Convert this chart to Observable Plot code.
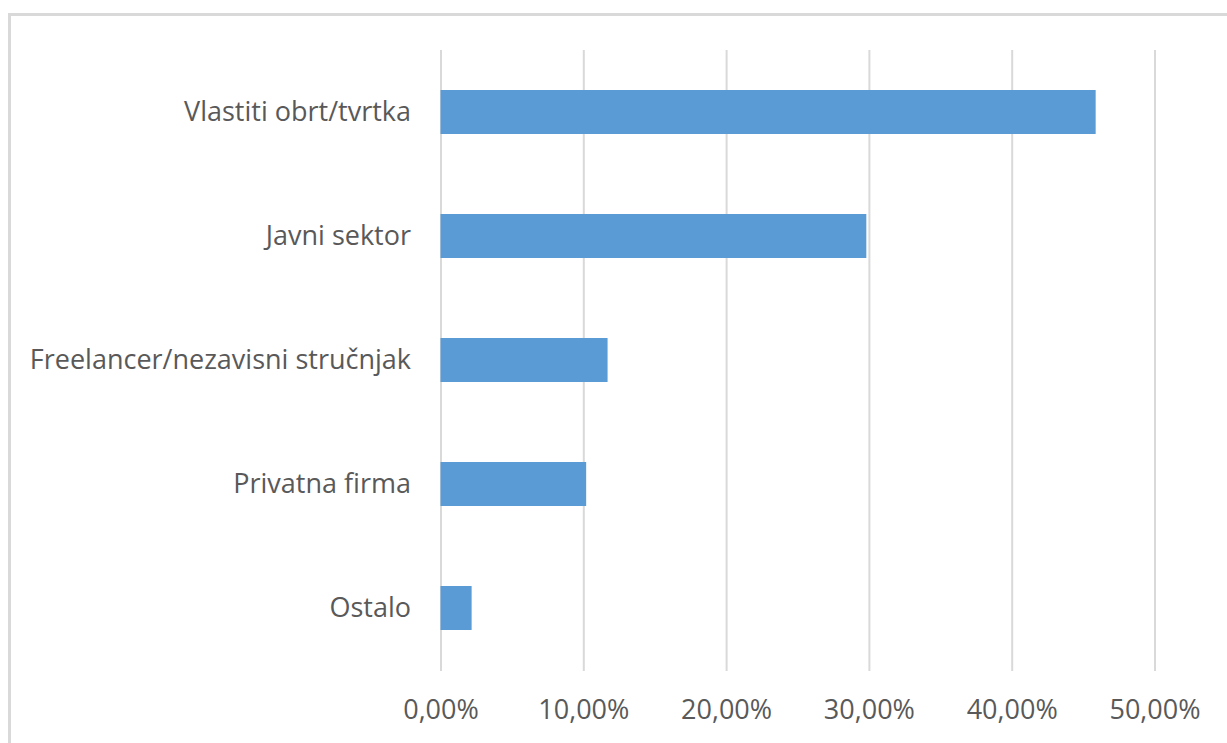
<!DOCTYPE html>
<html>
<head>
<meta charset="utf-8">
<script src="https://cdn.jsdelivr.net/npm/d3@7"></script>
<script src="https://cdn.jsdelivr.net/npm/@observablehq/plot@0.6"></script>
<style>
  html, body { margin: 0; padding: 0; background: #fff; overflow: hidden; }
  #wrap { position: relative; width: 1227px; height: 743px; }
  #frame { position: absolute; left: 8px; top: 13px; width: 1300px; height: 800px;
           border-left: 3px solid #d9d9d9; border-top: 3px solid #d9d9d9; box-sizing: border-box; }
  #chart { position: absolute; left: 0; top: 0; }
</style>
</head>
<body>
<div id="wrap"><div id="frame"></div><div id="chart"></div></div>
<script>
const categories = ["Vlastiti obrt/tvrtka", "Javni sektor", "Freelancer/nezavisni stručnjak", "Privatna firma", "Ostalo"];
const shares = [45.88, 29.82, 11.7, 10.2, 2.18];
const xTicks = [0, 10, 20, 30, 40, 50];

const data = categories.map((c, i) => ({category: c, value: shares[i]}));
const fmt = v => v.toFixed(2).replace(".", ",") + "%";

const chart = Plot.plot({
  width: 1227,
  height: 743,
  marginLeft: 440.5,
  marginRight: 72.5,
  marginTop: 50,
  marginBottom: 72,
  style: {fontFamily: "'Open Sans', sans-serif", fontSize: "27px", color: "#595959", background: "transparent"},
  x: {domain: [0, 50], ticks: xTicks, tickFormat: fmt, label: null},
  y: {domain: categories, paddingInner: 0.645, paddingOuter: 0.3225, label: null},
  marks: [
    Plot.gridX(xTicks, {stroke: "#d9d9d9", strokeOpacity: 1, strokeWidth: 2}),
    Plot.barX(data, {x: "value", y: "category", fill: "#5b9bd5"}),
    Plot.axisX({ticks: xTicks, tickFormat: fmt, tickSize: 0, tickPadding: 28, fill: "#595959", fontSize: 27, label: null}),
    Plot.axisY({tickSize: 0, tickPadding: 30, fill: "#595959", fontSize: 27, label: null})
  ]
});
document.getElementById("chart").appendChild(chart);
</script>
</body>
</html>
